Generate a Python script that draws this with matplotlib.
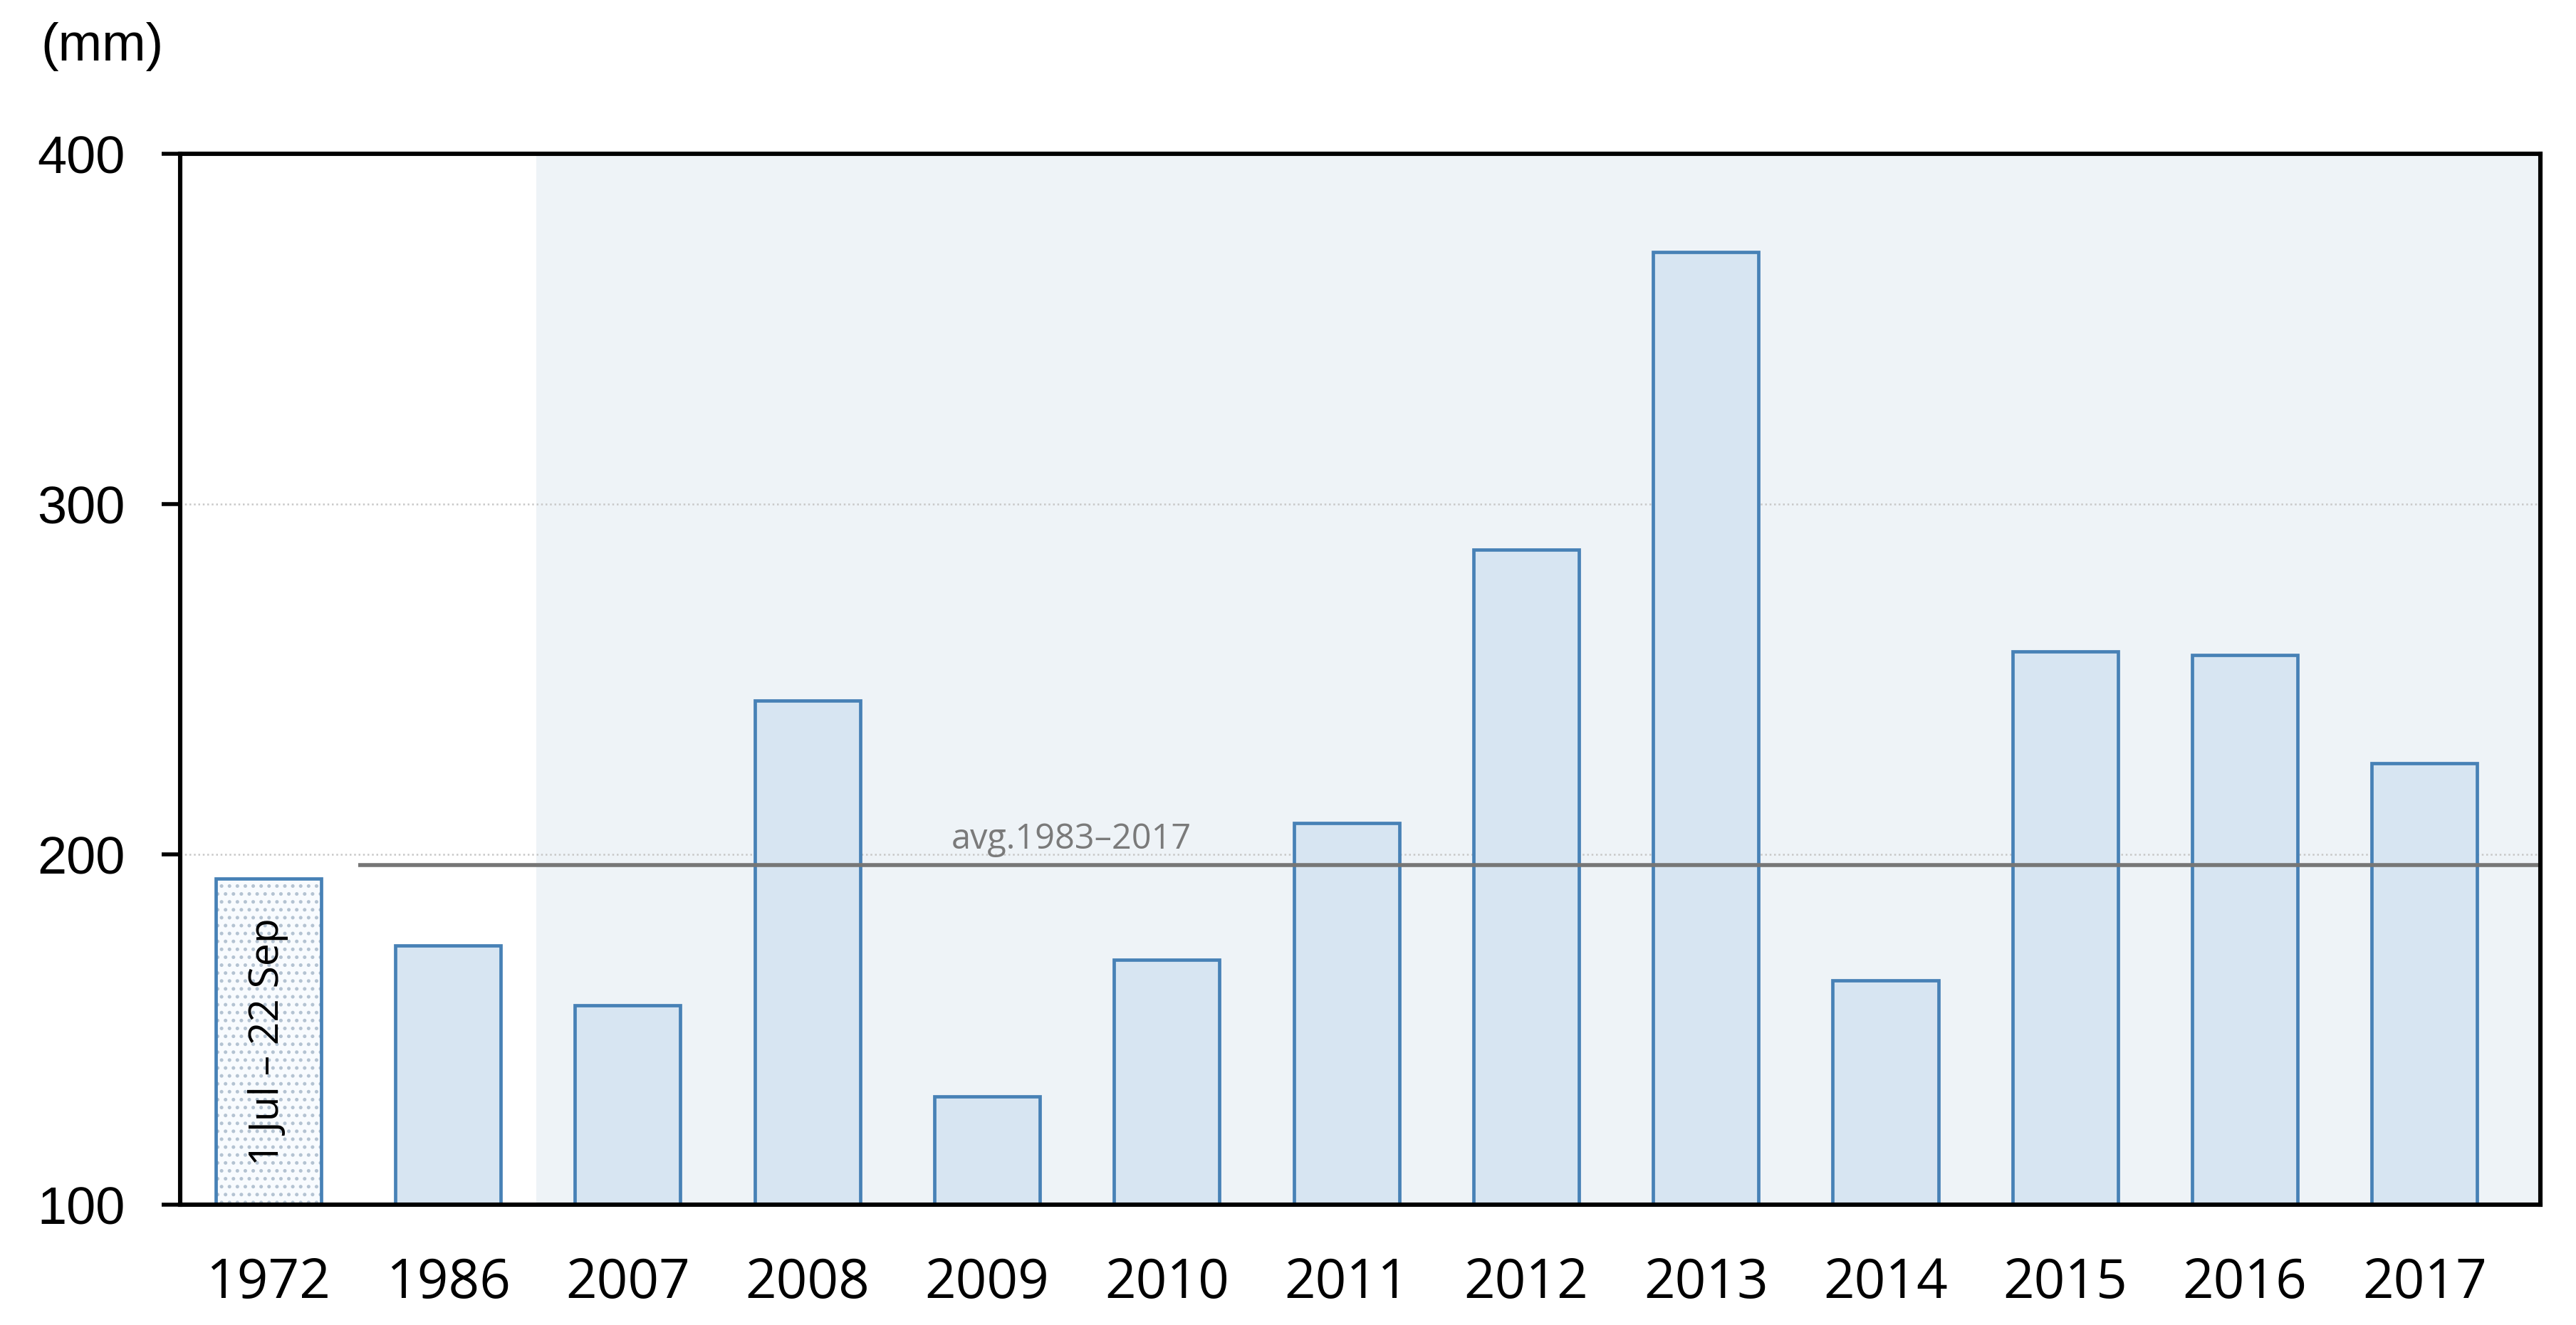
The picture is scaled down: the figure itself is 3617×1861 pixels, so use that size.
import matplotlib
matplotlib.use('Agg')
import matplotlib.pyplot as plt

# data
years = ['1972', '1986', '2007', '2008', '2009', '2010', '2011',
         '2012', '2013', '2014', '2015', '2016', '2017']
rain_mm = [193, 174, 157, 244, 131, 170, 209, 287, 372, 164, 258, 257, 226]
avg_value = 197
avg_label = 'avg.1983\u20132017'
note_1972 = '1 Jul \u2013 22 Sep'
y_ticks = [100, 200, 300, 400]

bar_face = '#d7e5f2'
bar_edge = '#4781b6'
shade = '#eef3f7'

plt.rcParams['hatch.linewidth'] = 1.0

fig = plt.figure(figsize=(18.085, 9.305), dpi=200)
ax = fig.add_axes([0.0700, 0.0908, 0.9162, 0.7931])

x = list(range(len(years)))
x_lo, x_hi = -0.49, 12.645

# shaded background behind the recent years
ax.axvspan(1.49, x_hi, color=shade, lw=0, zorder=0)

# grid
for v in y_ticks[1:]:
    ax.axhline(v, color='#c8c8c8', lw=0.9, ls=(0, (1, 1.5)), zorder=1)

# regular bars
ax.bar(x[1:], rain_mm[1:], width=0.587, bottom=0, color=bar_face,
       edgecolor=bar_edge, linewidth=1.7, zorder=2)

# 1972 bar: dotted fill, then the outline
ax.bar(x[:1], rain_mm[:1], width=0.587, color='#f8fbfe', edgecolor='#b4c3d2',
       linewidth=0, hatch='...', zorder=2)
ax.bar(x[:1], rain_mm[:1], width=0.587, fill=False, edgecolor=bar_edge,
       linewidth=1.7, zorder=3)
ax.text(x[0], 146.5, note_1972, rotation=90, ha='center', va='center',
        fontsize=20.5, family='Open Sans', color='black', zorder=4)

# average line
ax.hlines(avg_value, 0.5, x_hi, color='#767676', lw=2.0, zorder=4)
ax.text(4.47, avg_value + 2.2, avg_label, ha='center', va='bottom',
        fontsize=17.5, family='Open Sans', color='#7a7a7a', zorder=4)

ax.set_xlim(x_lo, x_hi)
ax.set_ylim(100, 400)
ax.set_yticks(y_ticks)
ax.set_yticklabels([str(v) for v in y_ticks], family='Liberation Sans', fontsize=26.6)
ax.set_xticks(x)
ax.set_xticklabels(years, family='Open Sans', fontsize=27.5)
ax.tick_params(axis='y', direction='out', length=9.4, width=2, pad=18.5)
ax.tick_params(axis='x', length=0, pad=26)

for s in ax.spines.values():
    s.set_linewidth(2.2)
    s.set_color('black')
    s.set_zorder(5)

fig.text(57 / 3617, 1 - 84.5 / 1861, '(mm)', ha='left', va='baseline',
         family='Liberation Sans', fontsize=26.6)

fig.savefig('out.png', dpi=200)
